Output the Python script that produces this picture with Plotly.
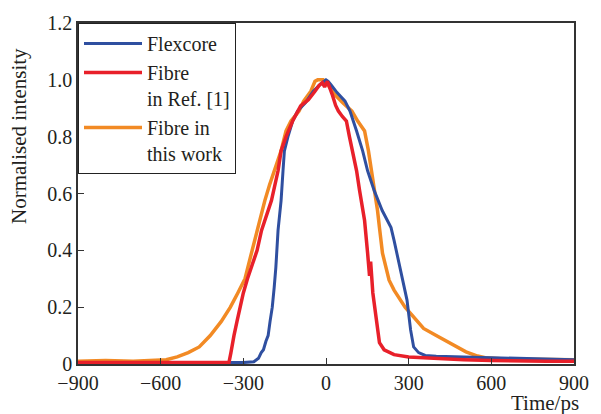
import plotly.graph_objects as go

# ---- data ----
orange_x = [-900, -800, -700, -620, -580, -540, -500, -460, -420, -380, -347, -320, -294, -268,
            -250, -238, -222, -205, -187, -163, -145, -127, -98, -81, -55, -40,
            -30, -10, 5, 30, 60, 94, 115, 140, 154, 165, 179, 187, 194, 205, 229, 247,
            287, 327, 354, 400, 436, 470, 508, 550, 578, 650, 750, 850, 900]
orange_y = [0.010, 0.012, 0.010, 0.012, 0.015, 0.025, 0.040, 0.060, 0.100, 0.150, 0.200, 0.250,
            0.300, 0.400, 0.470, 0.520, 0.575, 0.630, 0.680, 0.750, 0.820, 0.855, 0.890, 0.925,
            0.960, 0.995, 1.000, 1.000, 0.985, 0.950, 0.920, 0.890, 0.855, 0.820, 0.750, 0.680,
            0.610, 0.540, 0.480, 0.390, 0.295, 0.260, 0.200, 0.155, 0.125, 0.100, 0.080, 0.062,
            0.043, 0.028, 0.022, 0.018, 0.017, 0.015, 0.015]

blue_x = [-900, -600, -400, -300, -262, -245, -235, -227, -218, -210, -203, -195, -188, -182,
          -174, -163, -156, -151, -138, -121, -103, -74, -46, -20, 0, 8, 20, 40, 69, 87, 111,
          133, 151, 175, 204, 222, 236, 247, 271, 294, 307, 318, 336, 360, 400, 500, 600, 700,
          800, 900]
blue_y = [0.005, 0.005, 0.005, 0.005, 0.008, 0.020, 0.040, 0.050, 0.080, 0.100, 0.150, 0.200,
          0.270, 0.340, 0.470, 0.575, 0.680, 0.750, 0.800, 0.855, 0.890, 0.920, 0.960, 0.985,
          1.000, 0.995, 0.980, 0.955, 0.925, 0.890, 0.820, 0.750, 0.680, 0.610, 0.540, 0.505,
          0.480, 0.435, 0.330, 0.225, 0.120, 0.060, 0.040, 0.030, 0.027, 0.025, 0.022, 0.020,
          0.018, 0.015]

red_x = [-900, -600, -400, -352, -345, -340, -334, -323, -313, -300, -285, -268, -250, -234,
         -217, -198, -174, -163, -145, -121, -92, -64, -40, -25, -13, -5,
         5, 15, 22, 35, 45, 60, 74, 85, 97, 111, 122, 133, 140, 151, 155, 158, 162, 164, 170,
         183, 194, 211, 247, 300, 350, 400, 500, 600, 700, 800, 900]
red_y = [0.005, 0.005, 0.005, 0.006, 0.040, 0.070, 0.100, 0.150, 0.200, 0.250, 0.300, 0.350,
         0.400, 0.470, 0.520, 0.575, 0.680, 0.750, 0.800, 0.855, 0.908, 0.930, 0.960, 0.980,
         0.990, 0.975, 0.995, 0.970, 0.950, 0.910, 0.890, 0.870, 0.855, 0.800, 0.750, 0.680,
         0.610, 0.540, 0.505, 0.390, 0.340, 0.310, 0.360, 0.320, 0.250, 0.155, 0.075, 0.050,
         0.033, 0.025, 0.022, 0.020, 0.015, 0.012, 0.010, 0.010, 0.010]

x_ticks = [-900, -600, -300, 0, 300, 600, 900]
x_ticktext = ["\u2212900", "\u2212600", "\u2212300", "0", "300", "600", "900"]
y_ticks = [0, 0.2, 0.4, 0.6, 0.8, 1.0, 1.2]
y_ticktext = ["0", "0.2", "0.4", "0.6", "0.8", "1.0", "1.2"]

FONT = "Liberation Serif"
TXT = "#231f20"

fig = go.Figure()
fig.add_trace(go.Scatter(x=orange_x, y=orange_y, mode="lines", name="Fibre in<br>this work",
                         line=dict(color="#f28a24", width=3.5), legendrank=3))
fig.add_trace(go.Scatter(x=blue_x, y=blue_y, mode="lines", name="Flexcore",
                         line=dict(color="#2f4fa0", width=3), legendrank=1))
fig.add_trace(go.Scatter(x=red_x, y=red_y, mode="lines", name="Fibre<br>in Ref. [1]",
                         line=dict(color="#e8202a", width=3.5), legendrank=2))

axis_common = dict(showline=True, linecolor="#333", linewidth=1.5, mirror=True,
                   ticks="inside", tickcolor="#333", ticklen=6, tickwidth=1.2,
                   showgrid=False, zeroline=False,
                   tickfont=dict(family=FONT, size=20, color=TXT))

fig.update_xaxes(range=[-900, 900], tickvals=x_ticks, ticktext=x_ticktext, **axis_common)
fig.update_yaxes(range=[0, 1.2], tickvals=y_ticks, ticktext=y_ticktext, **axis_common)

fig.update_layout(
    width=601, height=414,
    margin=dict(l=78, r=17, t=21, b=50),
    paper_bgcolor="white", plot_bgcolor="white",
    font=dict(family=FONT, size=20, color=TXT),
    legend=dict(x=0, y=1, xanchor="left", yanchor="top", bgcolor="white",
                bordercolor="#222", borderwidth=1, valign="top",
                font=dict(family=FONT, size=20, color=TXT),
                tracegroupgap=0, itemwidth=58),
    annotations=[
        dict(text="Time/ps", xref="paper", yref="paper", x=1.015, y=-0.115,
             xanchor="right", yanchor="middle", showarrow=False,
             font=dict(family=FONT, size=21, color=TXT)),
        dict(text="Normalised intensity", xref="paper", yref="paper", x=-0.12, y=0.67,
             xanchor="center", yanchor="middle", textangle=-90, showarrow=False,
             font=dict(family=FONT, size=21, color=TXT)),
    ],
)

fig.write_html("out.html")
